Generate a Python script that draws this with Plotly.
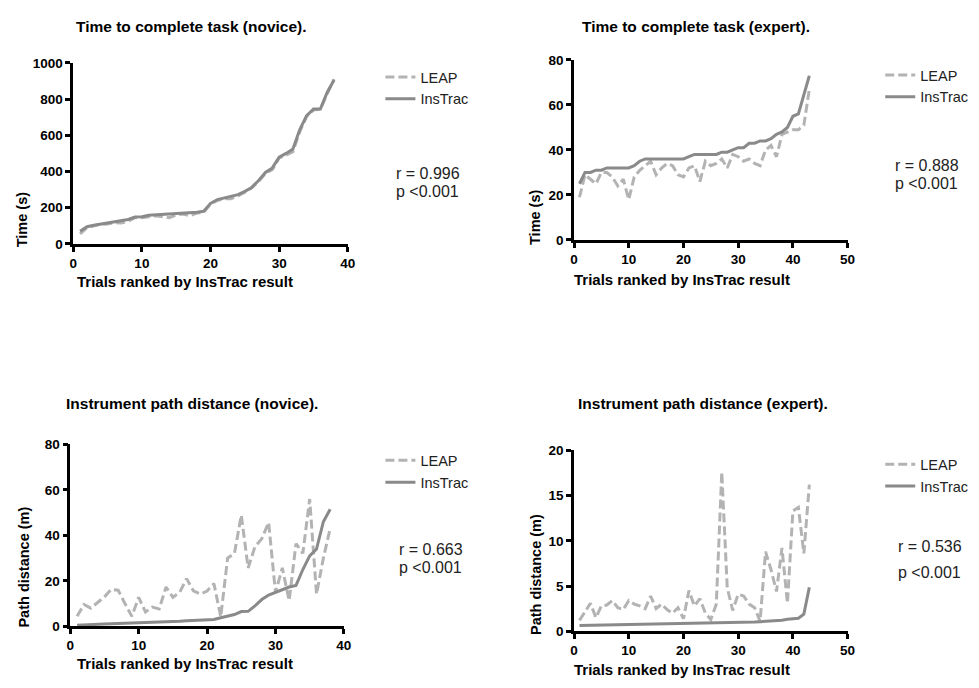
import plotly.graph_objects as go

# ---------------- data ----------------
novice_x = list(range(1, 39))
expert_x = list(range(1, 44))

time_novice_instrac = [70, 95, 103, 110, 115, 122, 128, 135, 148, 150, 158, 160, 162, 165, 167, 170, 172, 175, 180,
                       224, 245, 255, 262, 272, 290, 312, 350, 395, 420, 479, 500, 524, 632, 709, 745, 745, 838, 906]
time_novice_leap = [55, 90, 100, 108, 110, 118, 115, 125, 145, 145, 150, 155, 150, 145, 160, 165, 155, 170, 175,
                    220, 240, 250, 250, 265, 285, 310, 345, 390, 410, 475, 490, 510, 620, 705, 740, 745, 830, 910]

time_expert_instrac = [25, 30, 30, 31, 31, 32, 32, 32, 32, 32, 33, 35, 36, 36, 36, 36, 36, 36, 36, 36, 37, 38,
                       38, 38, 38, 38, 39, 39, 40, 41, 41, 43, 43, 44, 44, 45, 47, 48, 50, 55, 56, 64, 73]
time_expert_leap = [19, 29, 27, 25, 30, 30, 28, 24, 27, 18, 28, 31, 33, 35, 29, 32, 34, 33, 29, 28, 32, 33,
                    26, 35, 33, 34, 36, 32, 38, 37, 35, 36, 34, 33, 40, 42, 37, 47, 48, 49, 49, 51, 67]

path_novice_instrac = [0.5, 0.7, 0.8, 0.9, 1.0, 1.1, 1.2, 1.3, 1.3, 1.4, 1.5, 1.6, 1.9, 2.0, 2.2, 2.3, 2.5, 2.6, 2.7,
                       2.8, 3.0, 3.8, 4.5, 5.2, 6.5, 6.6, 9.0, 11.8, 13.8, 15.0, 16.2, 17.3, 18.0, 25.0, 31.0, 34.0,
                       46.0, 51.5]
path_novice_leap = [4.4, 9.6, 8.0, 10.6, 13.0, 16.3, 15.9, 10.0, 4.4, 12.8, 6.3, 8.5, 7.7, 17.3, 12.8, 15.0, 21.0,
                    15.6, 14.2, 15.5, 18.8, 4.2, 30.0, 32.1, 48.9, 25.7, 35.0, 38.6, 45.7, 14.9, 25.7, 11.3, 36.4,
                    32.1, 56.0, 14.2, 30.0, 43.1]

path_expert_instrac = [0.65, 0.66, 0.67, 0.68, 0.69, 0.70, 0.71, 0.72, 0.73, 0.74, 0.75, 0.76, 0.77, 0.78, 0.79,
                       0.80, 0.80, 0.81, 0.82, 0.83, 0.84, 0.84, 0.85, 0.86, 0.86, 0.87, 0.88, 0.89, 0.90, 0.93,
                       0.96, 0.99, 1.02, 1.06, 1.09, 1.12, 1.15, 1.22, 1.33, 1.38, 1.44, 1.9, 4.85]
path_expert_leap = [1.2, 2.2, 3.1, 1.5, 2.8, 2.9, 3.4, 2.6, 2.4, 3.4, 3.0, 2.8, 2.5, 3.9, 2.5, 3.0, 2.4, 2.0, 2.6,
                    1.4, 4.5, 2.8, 3.6, 2.0, 1.3, 3.0, 17.6, 4.8, 2.3, 4.1, 3.9, 3.0, 2.6, 1.1, 8.8, 6.8, 4.4,
                    9.2, 3.1, 13.3, 13.7, 8.6, 16.2]

panel_titles = ["Time to complete task (novice).", "Time to complete task (expert).",
                "Instrument path distance (novice).", "Instrument path distance (expert)."]
y_titles = ["Time (s)", "Time (s)", "Path distance (m)", "Path distance (m)"]
x_title = "Trials ranked by InsTrac result"
r_values = ["r = 0.996", "r = 0.888", "r = 0.663", "r = 0.536"]
p_text = "p <0.001"
x_ranges = [40, 50, 40, 50]
y_ranges = [1000, 80, 80, 20]
y_dticks = [200, 20, 20, 5]

# ---------------- layout helpers ----------------
W, H = 979, 688
OFF = 8  # page body margin of the html page


def px_x(p):
    return (p - OFF) / W


def px_y(p):
    return 1 - (p - OFF) / H


# panel pixel boxes on the page (left, right, top, bottom)
boxes = [(70, 348, 57, 242), (577, 854, 54, 238), (67, 344, 447, 633), (577, 854, 453, 638)]

LEAP_COLOR = "#b3b3b3"
INS_COLOR = "#8a8a8a"
FONT = "Liberation Sans, Arial, Helvetica, sans-serif"

fig = go.Figure()

series = [
    (novice_x, time_novice_leap, time_novice_instrac),
    (expert_x, time_expert_leap, time_expert_instrac),
    (novice_x, path_novice_leap, path_novice_instrac),
    (expert_x, path_expert_leap, path_expert_instrac),
]

legend_names = ["legend", "legend2", "legend3", "legend4"]
for i, (xs, leap, ins) in enumerate(series):
    xa = "x" if i == 0 else f"x{i+1}"
    ya = "y" if i == 0 else f"y{i+1}"
    fig.add_trace(go.Scatter(x=xs, y=leap, mode="lines", name="LEAP", xaxis=xa, yaxis=ya,
                             line=dict(color=LEAP_COLOR, width=3, dash="9px,4px"),
                             legend=legend_names[i]))
    fig.add_trace(go.Scatter(x=xs, y=ins, mode="lines", name="InsTrac", xaxis=xa, yaxis=ya,
                             line=dict(color=INS_COLOR, width=3),
                             legend=legend_names[i]))

axis_common = dict(showline=True, linecolor="black", linewidth=2.5, ticks="outside", ticklen=5,
                   tickwidth=2.5, tickcolor="black", showgrid=False, zeroline=False,
                   tickfont=dict(family=FONT, size=13.5, color="black", weight="bold"))

layout = dict(
    width=W, height=H, margin=dict(l=0, r=0, t=0, b=0),
    plot_bgcolor="white", paper_bgcolor="white",
    font=dict(family=FONT, color="black"),
)

legend_pos = [(381, 55), (887, 53), (381, 447), (887, 451)]
for i, (l, r, t, b) in enumerate(boxes):
    suffix = "" if i == 0 else str(i + 1)
    layout[f"xaxis{suffix}"] = dict(domain=[px_x(l), px_x(r)], range=[0, x_ranges[i]], dtick=10,
                                   anchor=f"y{suffix}", **axis_common)
    layout[f"yaxis{suffix}"] = dict(domain=[px_y(b), px_y(t)], range=[0, y_ranges[i]], dtick=y_dticks[i],
                                   anchor=f"x{suffix}", **axis_common)
    lx, ly = legend_pos[i]
    layout[legend_names[i]] = dict(x=px_x(lx), y=px_y(ly), xanchor="left", yanchor="top",
                                   bgcolor="rgba(0,0,0,0)", itemwidth=30,
                                   font=dict(family=FONT, size=14.5, color="#222"))

fig.update_layout(**layout)

title_pos = [(190, 20), (700, 20), (190, 405), (708, 405)]
xt_pos = [(183, 280), (686, 278), (183, 671), (686, 677)]
yt_pos = [(19, 217), (538, 215), (20, 572), (538, 580)]
r_pos = [(395, 170), (900, 162), (398, 554), (903, 551)]
p_pos = [(395, 188), (900, 180), (398, 573), (903, 578)]

for i in range(4):
    fig.add_annotation(x=px_x(title_pos[i][0]), y=px_y(title_pos[i][1]), xref="paper", yref="paper",
                       text=f"<b>{panel_titles[i]}</b>", showarrow=False, xanchor="center", yanchor="middle",
                       font=dict(family=FONT, size=15.5, color="black"))
    fig.add_annotation(x=px_x(xt_pos[i][0]), y=px_y(xt_pos[i][1]), xref="paper", yref="paper",
                       text=f"<b>{x_title}</b>", showarrow=False, xanchor="center", yanchor="middle",
                       font=dict(family=FONT, size=15, color="black"))
    fig.add_annotation(x=px_x(yt_pos[i][0]), y=px_y(yt_pos[i][1]), xref="paper", yref="paper",
                       text=f"<b>{y_titles[i]}</b>", showarrow=False, xanchor="center", yanchor="middle",
                       textangle=-90, font=dict(family=FONT, size=14.5, color="black"))
    fig.add_annotation(x=px_x(r_pos[i][0]), y=px_y(r_pos[i][1]), xref="paper", yref="paper",
                       text=r_values[i], showarrow=False, xanchor="left", yanchor="middle",
                       font=dict(family=FONT, size=16, color="#222"))
    fig.add_annotation(x=px_x(p_pos[i][0]), y=px_y(p_pos[i][1]), xref="paper", yref="paper",
                       text=p_text, showarrow=False, xanchor="left", yanchor="middle",
                       font=dict(family=FONT, size=16, color="#222"))

fig.write_html("out.html")
